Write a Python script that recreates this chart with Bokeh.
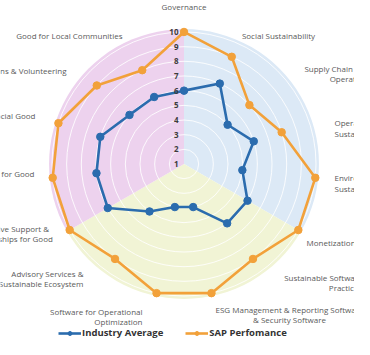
import numpy as np
from bokeh.plotting import figure
from bokeh.models import Range1d, Legend, LegendItem
from bokeh.core.properties import value
from bokeh.embed import file_html
from bokeh.resources import INLINE

# ---------------- data ----------------
categories = [
    "Governance",
    "Social Sustainability",
    "Supply Chain for Circular\nOperations",
    "Operational\nSustainability",
    "Environmental\nSustainability",
    "Monetization",
    "Sustainable Software Framework\nPractices",
    "ESG Management & Reporting Software\n& Security Software",
    "Software for Operational\nOptimization",
    "Advisory Services &\nSustainable Ecosystem",
    "Executive Support &\nPartnerships for Good",
    "Tech for Good",
    "Social Good",
    "Donations & Volunteering",
    "Good for Local Communities",
]
industry_average = [6, 7, 5, 6, 5, 6, 6, 4, 4, 5, 7, 7, 7, 6, 6]
sap_performance = [10, 9, 7, 8, 10, 10, 9, 10, 10, 9, 10, 10, 10, 9, 8]
tick_values = [1, 2, 3, 4, 5, 6, 7, 8, 9, 10]
series_names = ["Industry Average", "SAP Perfomance"]

# ---------------- layout / style ----------------
S = 14.67          # px per radial unit
W, H = 354, 339
CX, CY = 183.5, 163.5   # centre of the radar inside the frame (px)
R_MIN = 1.0
R_BG = 10.2

BLUE = "#2b6cae"
ORANGE = "#f2a13a"
FONT = value("Open Sans")

# label block centres as pixel offsets from the radar centre (screen: +y down)
label_layout = [
    (0, -158, "center"),
    (94.5, -128.5, "center"),
    (166.5, -90.5, "center"),
    (150.5, -36, "left"),
    (150.5, 19, "left"),
    (122.5, 78.5, "left"),
    (161.5, 118.5, "center"),
    (105.5, 150.5, "center"),
    (-41.5, 152.5, "right"),
    (-100.5, 114.5, "right"),
    (-172.5, 69.5, "center"),
    (-149.5, 9.5, "right"),
    (-148.5, -48.5, "right"),
    (-117.5, -93.5, "right"),
    (-61.5, -128.5, "right"),
]
LINE_H = 10.5

n = len(categories)
theta = np.arange(n) * 2 * np.pi / n   # clockwise from top


def polar(vals):
    r = np.asarray(vals, dtype=float) - R_MIN
    x = r * np.sin(theta)
    y = r * np.cos(theta)
    return list(x) + [x[0]], list(y) + [y[0]]


p = figure(width=W, height=H,
           x_range=Range1d(-CX / S, (W - CX) / S),
           y_range=Range1d(-(H - CY) / S, CY / S),
           x_axis_type=None, y_axis_type=None,
           output_backend="svg", toolbar_location=None, min_border=0)
p.grid.visible = False
p.outline_line_color = None
p.background_fill_color = "white"
p.border_fill_color = "white"

# background sectors
rb = R_BG - R_MIN
for a0, a1, col in [(-30, 90, "#dce9f6"), (-150, -30, "#f1f4d5"), (90, 210, "#edd2ee")]:
    p.wedge(x=0, y=0, radius=rb, start_angle=np.deg2rad(a0), end_angle=np.deg2rad(a1),
            fill_color=col, line_color=None)

# concentric grid circles
for t in tick_values[1:]:
    p.circle(x=0, y=0, radius=t - R_MIN, fill_color=None, line_color="white",
             line_alpha=0.85, line_width=1)

# series
bx, by = polar(industry_average)
ox, oy = polar(sap_performance)
bl = p.line(bx, by, line_color=BLUE, line_width=2.6)
bs = p.scatter(bx[:-1], by[:-1], size=7.5, fill_color=BLUE, line_color=BLUE)
ol = p.line(ox, oy, line_color=ORANGE, line_width=2.6)
osc = p.scatter(ox[:-1], oy[:-1], size=7.5, fill_color=ORANGE, line_color=ORANGE)

# radial tick labels
p.text(x=[-5.5 / S] * len(tick_values), y=[t - R_MIN for t in tick_values],
       text=[str(t) for t in tick_values], text_align="right", text_baseline="middle",
       text_font=FONT, text_font_size="8px", text_font_style="bold", text_color="#3c3c3c")

# category labels
groups = {"left": ([], [], []), "right": ([], [], []), "center": ([], [], [])}
for cat, (dx, dy, al) in zip(categories, label_layout):
    lines = cat.split("\n")
    k = len(lines)
    for j, ln in enumerate(lines):
        yy = dy + (j - (k - 1) / 2) * LINE_H
        gx, gy, gt = groups[al]
        gx.append(dx / S)
        gy.append(-yy / S)
        gt.append(ln)
for al, (gx, gy, gt) in groups.items():
    if gt:
        p.text(x=gx, y=gy, text=gt, text_align=al, text_baseline="middle",
               text_font=FONT, text_font_size="8px", text_color="#5a5a5a")

legend = Legend(items=[LegendItem(label=series_names[0], renderers=[bl, bs]),
                       LegendItem(label=series_names[1], renderers=[ol, osc])],
                orientation="horizontal", location=(58, 0), padding=0, margin=0,
                spacing=22, glyph_width=23, glyph_height=10, label_height=10,
                label_standoff=1, label_text_font="Open Sans",
                label_text_font_style="bold", label_text_font_size="9.5px",
                label_text_color="#333333", background_fill_alpha=0,
                border_line_alpha=0)
p.add_layout(legend)

open("out.html", "w").write(file_html(p, INLINE))
